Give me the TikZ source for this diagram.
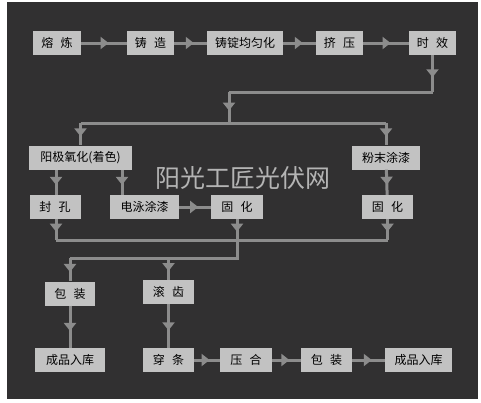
\documentclass[tikz,border=0pt]{standalone}
\usepackage{fontspec}
\setmainfont{Noto Sans CJK SC}
\usetikzlibrary{arrows.meta,decorations.markings}
\definecolor{bgdark}{HTML}{313031}
\definecolor{boxgray}{HTML}{C2C2C2}
\definecolor{linegray}{HTML}{8C8C8C}
\definecolor{markgray}{HTML}{B4B4B4}
\newcommand{\gap}{\hspace{0.6em}}
\begin{document}
\begin{tikzpicture}[x=1pt,y=-1pt,
    stepbox/.style={fill=boxgray, minimum height=24pt, inner sep=0pt,
      font=\fontsize{12}{12}\selectfont, text=black},
    flow/.style={draw=linegray, line width=3pt},
    midarrow/.style={flow, decoration={markings,
      mark=at position 0.6 with {\arrow{Triangle[width=12pt,length=8pt]}}},
      postaction={decorate}}]
        % Fond
        \useasboundingbox (0,0) rectangle (481,402);
        \fill[bgdark] (7,2) rectangle (478,399);

        % Filigrane
        \node[text=markgray, font=\fontsize{25}{25}\selectfont] (mark) at (243,178) {阳光工匠光伏网};

        % Premiere ligne
        \node[stepbox, minimum width=48pt] (rongl) at (57,43) {熔\gap 炼};
        \node[stepbox, minimum width=47pt] (zhuz) at (150.5,43) {铸\gap 造};
        \node[stepbox, minimum width=76pt] (junyun) at (245,43) {铸锭均匀化};
        \node[stepbox, minimum width=47pt] (jiya) at (339.5,43) {挤\gap 压};
        \node[stepbox, minimum width=47pt] (shixiao) at (432.5,43) {时\gap 效};

        \draw[midarrow] (rongl) -- (zhuz);
        \draw[midarrow] (zhuz) -- (junyun);
        \draw[midarrow] (junyun) -- (jiya);
        \draw[midarrow] (jiya) -- (shixiao);

        % Traitement de surface
        \node[stepbox, minimum width=103pt] (yangji) at (80.5,157.5) {阳极氧化(着色)};
        \node[stepbox, minimum width=68pt] (fenmo) at (386,157.5) {粉末涂漆};
        \node[stepbox, minimum width=51pt] (fengkong) at (55,207) {封\gap 孔};
        \node[stepbox, minimum width=69pt] (dianyong) at (144.5,207) {电泳涂漆};
        \node[stepbox, minimum width=52pt] (guhua) at (237,207) {固\gap 化};
        \node[stepbox, minimum width=51pt] (guhuab) at (387.5,207) {固\gap 化};

        \coordinate (a1) at (shixiao.south |- 0,92);
        \coordinate (a2) at (229,92);
        \coordinate (a3) at (229,123);
        \coordinate (a4) at (yangji.north |- a3);
        \coordinate (a5) at (fenmo.north |- a3);
        \draw[midarrow] (shixiao) -- (a1);
        \draw[flow] (a1) -- (a2);
        \draw[midarrow] (a2) -- (a3);
        \draw[flow] (a4) -- (a5);
        \draw[midarrow] (a4) -- (yangji);
        \draw[midarrow] (a5) -- (fenmo);

        \coordinate (b1) at (56,170);
        \coordinate (b2) at (122,170);
        \draw[midarrow] (b1) -- (b1 |- fengkong.north);
        \draw[midarrow] (b2) -- (b2 |- dianyong.north);
        \draw[midarrow] (dianyong) -- (guhua);
        \draw[midarrow] (fenmo) -- (guhuab);

        % Regroupement
        \coordinate (c1) at (56,240);
        \coordinate (c2) at (guhua.south |- c1);
        \coordinate (c3) at (guhuab.south |- c1);
        \draw[midarrow] (c1 |- fengkong.south) -- (c1);
        \draw[midarrow] (guhua) -- (c2);
        \draw[midarrow] (guhuab) -- (c3);
        \draw[flow] (c1) -- (c3);

        % Fin de chaine
        \node[stepbox, minimum width=50pt] (baozh) at (70,293.5) {包\gap 装};
        \node[stepbox, minimum width=51pt] (gunchi) at (168.5,292) {滚\gap 齿};
        \node[stepbox, minimum width=70pt] (ruku) at (70,360) {成品入库};
        \node[stepbox, minimum width=51pt] (chuant) at (168.5,360) {穿\gap 条};
        \node[stepbox, minimum width=52pt] (yahe) at (246,360) {压\gap 合};
        \node[stepbox, minimum width=51pt] (baozhb) at (326.5,360) {包\gap 装};
        \node[stepbox, minimum width=67pt] (rukub) at (418.5,360) {成品入库};

        \coordinate (d1) at (c2 |- 0,258);
        \coordinate (d2) at (baozh.north |- d1);
        \coordinate (d3) at (gunchi.north |- d1);
        \draw[flow] (c2) -- (d1) -- (d2);
        \draw[midarrow] (d2) -- (baozh);
        \draw[midarrow] (d3) -- (gunchi);
        \draw[midarrow] (baozh) -- (ruku);
        \draw[midarrow] (gunchi) -- (chuant);
        \draw[midarrow] (chuant) -- (yahe);
        \draw[midarrow] (yahe) -- (baozhb);
        \draw[midarrow] (baozhb) -- (rukub);
\end{tikzpicture}
\end{document}
